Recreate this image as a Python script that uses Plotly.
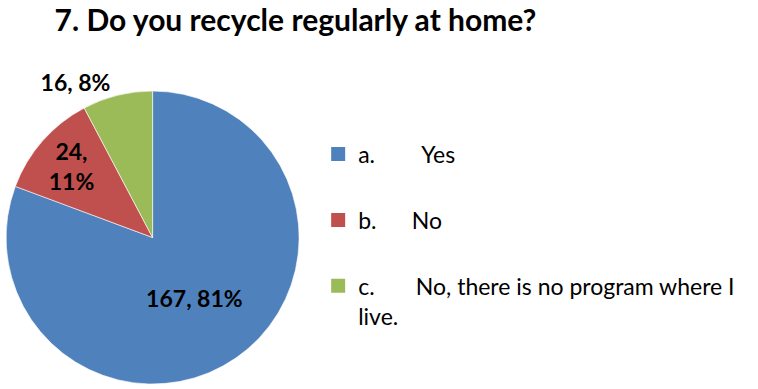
import plotly.graph_objects as go

NB = "\u00a0"
categories = ["a." + NB * 8 + "Yes",
              "b." + NB * 6 + "No",
              "c." + NB * 7 + "No, there is no program where I<br>live."]
counts = [167, 24, 16]
pct_labels = ["81%", "11%", "8%"]
colors = ["#4F81BD", "#C0504D", "#9BBB59"]
title_text = "7. Do you recycle regularly at home?"

W, H = 758, 389
FONT = "Lato"

texts = [f"{counts[0]}, {pct_labels[0]}",
         f"{counts[1]},<br>{pct_labels[1]}",
         f"{counts[2]}, {pct_labels[2]}"]

fig = go.Figure()
fig.add_trace(go.Pie(
    labels=categories, values=counts, text=texts,
    textinfo="text", sort=False, direction="clockwise", rotation=0,
    marker=dict(colors=colors, line=dict(color="white", width=0.6)),
    textposition=["inside", "inside", "outside"],
    insidetextorientation="horizontal",
    textfont=dict(family=FONT, size=23, color="black", weight="bold"),
    showlegend=False, hoverinfo="skip",
    domain=dict(x=[3 / W, 299 / W], y=[1 / H, 297 / H]),
))
for i, cat in enumerate(categories):
    fig.add_trace(go.Scatter(
        x=[None], y=[None], mode="markers", name=cat,
        marker=dict(symbol="square", size=14, color=colors[i]),
        legendgroup=str(i), showlegend=True,
    ))

fig.update_layout(
    width=W, height=H,
    margin=dict(l=0, r=0, t=0, b=0),
    paper_bgcolor="white", plot_bgcolor="white",
    uniformtext=dict(minsize=23, mode="show"),
    title=dict(text=title_text, x=295.5 / W, xanchor="center", y=1 - 20 / H, yanchor="middle",
               font=dict(family=FONT, size=30, color="black", weight="bold")),
    xaxis=dict(visible=False), yaxis=dict(visible=False),
    legend=dict(x=317 / W, xanchor="left", y=1 - 134 / H, yanchor="top",
                font=dict(family=FONT, size=23, color="black"),
                tracegroupgap=33, itemclick=False, bgcolor="rgba(0,0,0,0)",
                valign="top"),
)
fig.write_html("out.html", config={"displayModeBar": False},
               post_script="document.body.style.margin='0px';")
